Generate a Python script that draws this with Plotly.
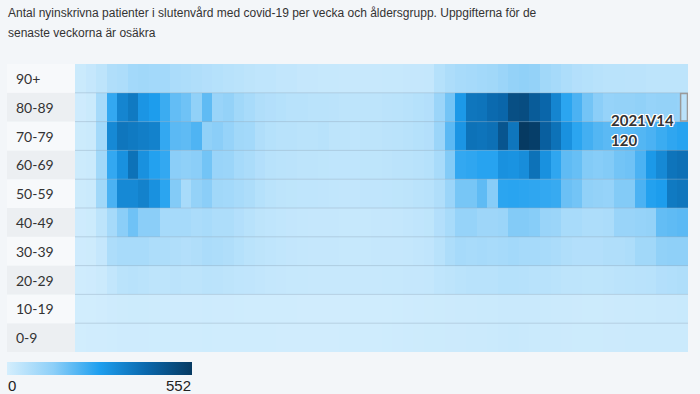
import plotly.graph_objects as go

# ---- categories ----
weeks = [f"2020V{w}" for w in range(10, 54)] + [f"2021V{w}" for w in range(1, 15)]
age_groups = ["0-9", "10-19", "20-29", "30-39", "40-49", "50-59", "60-69", "70-79", "80-89", "90+"]

# ---- series values (new hospitalised patients per week) ----
vals_90 = [20, 30, 45, 70, 75, 95, 100, 95, 95, 80, 75, 70, 65, 60, 55,
           50, 45, 40, 40, 35, 35, 30, 30, 28, 28, 25, 25, 25, 25, 28, 28, 30, 30, 32,
           60, 75, 85, 90, 95, 100, 110, 125, 130, 125, 100, 90, 75, 65, 60, 55, 50, 50, 48, 48, 45, 45, 45, 45]
vals_80 = [12, 20, 90, 250, 340, 370, 300, 280, 240, 190, 175, 130, 195, 115, 125,
           100, 85, 70, 65, 60, 55, 55, 50, 50, 48, 45, 45, 45, 45, 48, 50, 55, 60, 65,
           110, 170, 290, 380, 385, 410, 420, 490, 495, 450, 420, 340, 260, 220, 170, 140, 120, 125, 125, 130, 120, 125, 125, 120]
vals_70 = [15, 20, 95, 330, 380, 370, 360, 350, 250, 200, 195, 215, 130, 140, 120,
           100, 95, 70, 60, 55, 55, 50, 50, 55, 45, 45, 40, 45, 45, 48, 50, 55, 60, 65,
           110, 200, 300, 390, 385, 395, 470, 380, 552, 540, 440, 390, 310, 260, 230, 210, 200, 200, 205, 210, 220, 240, 255, 265]
vals_60 = [15, 20, 100, 250, 310, 390, 310, 270, 250, 140, 135, 140, 170, 115, 110,
           90, 80, 65, 55, 50, 48, 45, 45, 42, 40, 40, 40, 42, 42, 45, 48, 50, 55, 60,
           85, 150, 250, 255, 265, 265, 310, 305, 320, 390, 310, 255, 195, 185, 150, 145, 150, 170, 175, 220, 290, 330, 385, 395]
vals_50 = [15, 20, 100, 220, 330, 330, 350, 310, 260, 150, 85, 125, 140, 100, 95,
           85, 75, 60, 50, 45, 42, 40, 40, 38, 36, 35, 35, 38, 38, 40, 42, 45, 50, 55,
           70, 110, 165, 165, 195, 145, 260, 262, 258, 255, 250, 245, 180, 170, 130, 125, 120, 150, 150, 220, 270, 280, 370, 380]
vals_40 = [12, 15, 45, 90, 140, 175, 140, 140, 90, 90, 90, 80, 85, 75, 75,
           65, 55, 45, 40, 36, 34, 32, 30, 30, 30, 28, 28, 28, 30, 30, 32, 35, 38, 42,
           65, 85, 120, 120, 105, 105, 110, 150, 150, 145, 115, 110, 85, 85, 75, 75, 80, 115, 115, 120, 125, 190, 195, 200]
vals_30 = [12, 14, 30, 75, 85, 85, 85, 75, 75, 70, 65, 70, 80, 75, 70,
           60, 50, 45, 40, 36, 34, 32, 30, 30, 30, 28, 28, 28, 30, 30, 30, 32, 35, 38,
           55, 75, 90, 85, 90, 85, 90, 95, 90, 90, 85, 80, 70, 65, 65, 65, 70, 70, 75, 100, 100, 130, 135, 135]
vals_20 = [10, 12, 18, 35, 50, 55, 50, 45, 45, 48, 45, 45, 50, 48, 45,
           40, 38, 35, 32, 30, 28, 28, 26, 26, 25, 25, 25, 25, 26, 28, 28, 30, 30, 32,
           40, 45, 50, 55, 55, 55, 60, 60, 58, 55, 55, 50, 45, 45, 42, 42, 45, 48, 50, 52, 55, 65, 68, 72]
vals_10 = [5, 6, 8, 12, 14, 15, 15, 14, 13, 12, 12, 12, 13, 12, 12,
           11, 10, 10, 10, 9, 9, 8, 8, 8, 8, 8, 9, 9, 10, 10, 11, 12, 13, 14,
           15, 16, 18, 18, 20, 20, 22, 22, 22, 22, 20, 18, 17, 16, 15, 15, 16, 17, 18, 19, 20, 22, 22, 24]
vals_0 = [6, 7, 8, 10, 12, 12, 12, 11, 11, 10, 10, 10, 11, 10, 10,
          10, 9, 9, 9, 8, 8, 8, 8, 8, 8, 9, 9, 10, 10, 11, 12, 13, 14, 15,
          15, 16, 16, 17, 18, 20, 22, 24, 22, 20, 18, 17, 16, 15, 15, 15, 16, 16, 17, 17, 18, 18, 18, 18]

z = [vals_0, vals_10, vals_20, vals_30, vals_40, vals_50, vals_60, vals_70, vals_80, vals_90]
zmin = 0
zmax = max(max(r) for r in z)

title_lines = ["Antal nyinskrivna patienter i slutenvård med covid-19 per vecka och åldersgrupp. Uppgifterna för de",
               "senaste veckorna är osäkra"]

# ---- layout geometry (pixels) ----
W, H = 700, 394
MR, MT = 12, 64
PW = W - MR          # paper width (left margin 0)
PH = H - MT          # paper height (bottom margin 0)
PLOT_L, PLOT_B = 75, 352

def px_x(px):
    return px / PW

def px_y(py):
    return (H - py) / PH

colorscale = [
    [0.0, "#d4eefd"],
    [0.25, "#8dcff8"],
    [0.5, "#1e9fef"],
    [0.75, "#0a68ad"],
    [1.0, "#063a62"],
]

fig = go.Figure()
fig.add_trace(go.Heatmap(
    z=z, x=weeks, y=age_groups,
    zmin=zmin, zmax=zmax,
    colorscale=colorscale,
    hoverongaps=False,
    colorbar=dict(
        orientation="h",
        x=px_x(7), xanchor="left",
        y=px_y(362), yanchor="top",
        len=185, lenmode="pixels",
        thickness=13,
        showticklabels=False,
        outlinewidth=0,
        xpad=0, ypad=0,
    ),
))

shapes = []
annotations = []
label_bg_dark = "#eceff2"
label_bg_light = "#f7f9fb"
for i, ag in enumerate(age_groups):
    shapes.append(dict(type="rect", xref="paper", yref="y",
                       x0=px_x(7), x1=px_x(PLOT_L), y0=i - 0.5, y1=i + 0.5,
                       fillcolor=label_bg_dark if i % 2 == 0 else label_bg_light,
                       line=dict(width=0), layer="below"))
    annotations.append(dict(text=ag, xref="paper", yref="y", x=px_x(14), y=ag,
                            xanchor="left", yanchor="middle", showarrow=False,
                            font=dict(family="Lato", size=14, color="#333333")))
for i in range(len(age_groups) - 1):
    shapes.append(dict(type="line", xref="paper", yref="y",
                       x0=px_x(PLOT_L), x1=1, y0=i + 0.5, y1=i + 0.5,
                       line=dict(color="rgba(150,175,195,0.45)", width=1)))

# hovered cell highlight (last week, 80-89)
last = len(weeks) - 1
row = age_groups.index("80-89")
shapes.append(dict(type="rect", xref="x", yref="y",
                   x0=last - 0.2, x1=last + 0.45, y0=row - 0.48, y1=row + 0.48,
                   fillcolor="rgba(255,255,255,0.35)",
                   line=dict(color="#9a9a9a", width=1.5)))
annotations.append(dict(
    text=f"<b>{weeks[last]}</b><br><b>{vals_80[last]}</b>",
    xref="x", yref="y", x=last - 0.5, y=row - 0.05,
    xanchor="right", yanchor="top", align="left", showarrow=False, xshift=-1,
    font=dict(family="Lato", size=15, color="#333333",
              shadow="1px 1px 0 #fff, -1px -1px 0 #fff, 1px -1px 0 #fff, -1px 1px 0 #fff, 0 1px 0 #fff, 0 -1px 0 #fff, 1px 0 0 #fff, -1px 0 0 #fff"),
))

# title lines
for line, py in zip(title_lines, [13, 33]):
    annotations.append(dict(text=line, xref="paper", yref="paper",
                            x=px_x(6), y=px_y(py), xanchor="left", yanchor="middle",
                            showarrow=False,
                            font=dict(family="Liberation Sans, Arial", size=12, color="#333333")))

# colorbar end labels
annotations.append(dict(text=str(zmin), xref="paper", yref="paper", x=px_x(6), y=px_y(385),
                        xanchor="left", yanchor="middle", showarrow=False,
                        font=dict(family="Liberation Sans, Arial", size=15, color="#222222")))
annotations.append(dict(text=str(zmax), xref="paper", yref="paper", x=px_x(193), y=px_y(385),
                        xanchor="right", yanchor="middle", showarrow=False,
                        font=dict(family="Liberation Sans, Arial", size=15, color="#222222")))

fig.update_layout(
    width=W, height=H,
    margin=dict(l=0, r=MR, t=MT, b=0, pad=0),
    paper_bgcolor="#f3f6f9",
    plot_bgcolor="#f3f6f9",
    xaxis=dict(visible=False, range=[-0.5, len(weeks) - 0.5], domain=[px_x(PLOT_L), 1]),
    yaxis=dict(visible=False, range=[-0.5, len(age_groups) - 0.5], domain=[px_y(PLOT_B), 1]),
    shapes=shapes,
    annotations=annotations,
    showlegend=False,
)

fig.write_html("out.html")
